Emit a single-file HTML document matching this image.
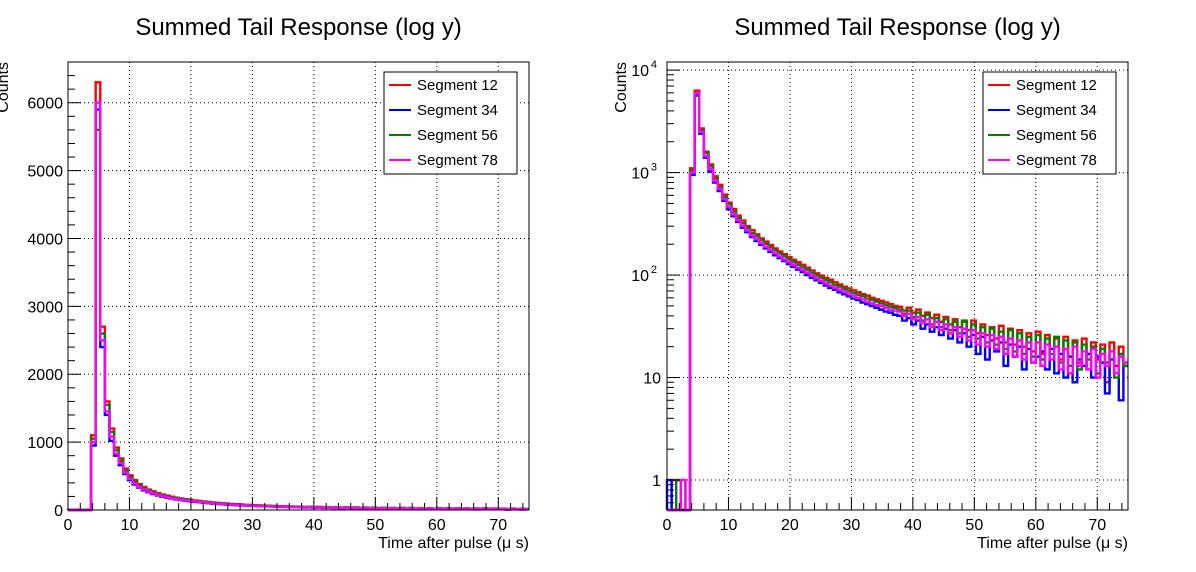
<!DOCTYPE html>
<html><head><meta charset="utf-8"><style>
html,body{margin:0;padding:0;background:#fff;}
svg{display:block;font-family:"Liberation Sans",sans-serif;}
</style></head><body>
<svg id="chart" width="1196" height="572" viewBox="0 0 1196 572" xmlns="http://www.w3.org/2000/svg"></svg>
<script>
const binWidth = 0.75;
const seriesNames = ["Segment 12","Segment 34","Segment 56","Segment 78"];
const seriesColors = ["#ff0000","#0000ff","#008000","#ff00ff"];
const seg12 = [0,1,1,0,0,1100,6300,2700,1600,1200,
920,760,610,510,440,380,340,300,275,250,
228,212,196,182,170,160,150,141,133,126,
118,111,104,99,94,90,85,81,77,74,
71,68,65,63,60,58,56,54,52,50,
49,45,48,43,46,40,43,38,41,35,
39,33,37,31,35,29,36,27,33,26,
31,24,32,22,30,21,29,20,27,18,
28,17,26,19,24,15,25,16,23,14,
24,12,22,15,21,9,22,13,20,14];
const seg34 = [1,0,0,0,0,950,5900,2400,1400,1020,
800,660,530,440,375,330,290,262,235,215,
197,182,168,156,146,137,128,120,113,107,
100,94,89,84,79,75,72,68,65,62,
59,57,54,52,50,48,46,44,43,41,
40,36,38,33,36,30,33,28,31,26,
30,24,29,22,27,20,26,17,25,15,
23,18,22,13,21,16,20,12,19,14,
16,18,12,19,11,17,10,16,9,15,
13,17,10,16,14,7,15,11,6,13];
const seg56 = [0,0,1,1,0,1050,5600,2600,1550,1150,
880,725,580,490,415,362,322,290,258,238,
218,202,186,174,162,152,142,134,126,119,
112,105,99,94,89,85,80,77,73,70,
67,64,62,59,57,55,53,51,49,48,
46,42,45,39,43,36,41,33,38,31,
37,29,35,27,36,25,33,24,31,22,
30,21,28,19,29,18,27,17,25,16,
26,15,24,17,25,14,23,13,22,12,
21,15,20,11,19,14,18,10,17,13];
const seg78 = [0,0,0,1,0,1000,6000,2500,1450,1080,
830,690,550,460,392,342,303,273,244,224,
204,189,175,163,152,142,134,126,118,112,
105,99,93,88,83,79,75,72,69,66,
63,60,58,55,53,51,50,48,46,45,
44,40,42,37,39,34,37,31,35,29,
33,27,31,25,30,23,29,21,27,20,
26,19,25,17,24,16,23,15,22,14,
22,13,21,15,20,12,19,11,20,13,
18,12,19,10,17,13,18,11,16,14];
const allSeries = [seg12, seg34, seg56, seg78];
const xTicks = [0,10,20,30,40,50,60,70];
const linTicks = [0,1000,2000,3000,4000,5000,6000];
const logTicks = [1,10,100,1000,10000];

const NS = "http://www.w3.org/2000/svg";
const svg = document.getElementById("chart");
function mk(tag, attrs, parent){
  const e = document.createElementNS(NS, tag);
  for (const k in attrs) e.setAttribute(k, attrs[k]);
  (parent||svg).appendChild(e); return e;
}

function drawPanel(L, R, T, B, isLog, key){
  const xmin=0,xmax=75;
  const xs = v => L + (v - xmin)/(xmax - xmin)*(R - L);
  const ymin = isLog ? Math.log10(0.51) : 0;
  const ymax = isLog ? Math.log10(12000) : 6600;
  const ys = v => {
    let t = isLog ? (v>0 ? Math.log10(v) : ymin) : v;
    if (t < ymin) t = ymin;
    return B - (t - ymin)/(ymax - ymin)*(B - T);
  };
  const g = mk("g", {});
  
  

  const title = mk("text", {x:(L+R)/2, y:35, "text-anchor":"middle", "font-size":"24"}, g);
  title.textContent = "Summed Tail Response (log y)";
  
  

  const grid = mk("g", {stroke:"#000","stroke-width":"1","stroke-dasharray":"1,3"}, g);
  
  
  xTicks.forEach(v => { if (v>xmin) mk("line",{x1:xs(v),x2:xs(v),y1:T,y2:B},grid); });
  (isLog ? logTicks : linTicks).forEach(v => { if (v>0 || isLog) mk("line",{x1:L,x2:R,y1:ys(v),y2:ys(v)},grid); });

  allSeries.forEach((arr, si) => {
    let d = "M" + xs(0) + "," + ys(0);
    arr.forEach((c, i) => {
      const x0 = xs(i*binWidth), x1 = xs(Math.min((i+1)*binWidth, xmax));
      const y = ys(c);
      d += " L" + x0 + "," + y + " L" + x1 + "," + y;
    });
    const p = mk("path", {d:d, fill:"none", stroke:seriesColors[si], "stroke-width":"2.4"}, g);
    
    
  });

  const fr = mk("rect",{x:L,y:T,width:R-L,height:B-T,fill:"none",stroke:"#000","stroke-width":"1"},g);
  
  

  const xa = mk("g",{stroke:"#000","stroke-width":"1"},g);
  
  
  for (let v=0; v<=xmax; v+=2){
    const major = v%10===0;
    mk("line",{x1:xs(v),x2:xs(v),y1:B,y2:B-(major?13:7)},xa);
  }
  xTicks.forEach(v => {
    const t = mk("text",{x:xs(v),y:B+20,"text-anchor":"middle","font-size":"16",stroke:"none"},xa);
    t.textContent = v;
  });
  const xt = mk("text",{x:R,y:B+38,"text-anchor":"end","font-size":"16"},g);
  xt.textContent = "Time after pulse (\u03bc s)";
  
  

  const ya = mk("g",{stroke:"#000","stroke-width":"1"},g);
  
  
  if (!isLog){
    for (let v=0; v<=6600; v+=200){
      const major = v%1000===0;
      mk("line",{x1:L,x2:L+(major?13:7),y1:ys(v),y2:ys(v)},ya);
    }
    linTicks.forEach(v => {
      const t = mk("text",{x:L-5,y:ys(v)+6,"text-anchor":"end","font-size":"16",stroke:"none"},ya);
      t.textContent = v;
    });
  } else {
    for (let dec=0.1; dec<=10000; dec*=10){
      for (let m=1;m<10;m++){
        const v = dec*m;
        if (v<0.51 || v>12000) continue;
        mk("line",{x1:L,x2:L+(m===1?13:7),y1:ys(v),y2:ys(v)},ya);
      }
    }
    [["1",1],["10",10]].forEach(([s,v]) => {
      const t = mk("text",{x:L-6,y:ys(v)+6,"text-anchor":"end","font-size":"16",stroke:"none"},ya);
      t.textContent = s;
    });
    [[2,100],[3,1000],[4,10000]].forEach(([e,v]) => {
      const t = mk("text",{x:L-18,y:ys(v)+6,"text-anchor":"end","font-size":"16",stroke:"none"},ya);
      t.textContent = "10";
      const s = mk("text",{x:L-10,y:ys(v)-2,"text-anchor":"end","font-size":"11",stroke:"none"},ya);
      s.textContent = e;
    });
  }
  const yt = mk("text",{x:0,y:0,"text-anchor":"end","font-size":"16",
    transform:"translate(" + (isLog ? L-41 : 8) + "," + T + ") rotate(-90)"},g);
  yt.textContent = "Counts";
  
  

  const lg = mk("g",{},g);
  
  
  const lx = R - 145, ly = T + 10;
  mk("rect",{x:lx,y:ly,width:133,height:102,fill:"#fff",stroke:"#000","stroke-width":"1"},lg);
  seriesNames.forEach((n,i) => {
    const e = mk("g",{},lg);
    
    
    const cy = ly + 13 + i*25;
    mk("line",{x1:lx+5,x2:lx+27,y1:cy,y2:cy,stroke:seriesColors[i],"stroke-width":"2"},e);
    const t = mk("text",{x:lx+33,y:cy+5,"font-size":"15"},e);
    t.textContent = n;
  });
}

drawPanel(68, 529, 62, 510, false, "linear");
drawPanel(667, 1128, 62, 510, true, "log");
</script>
</body></html>
